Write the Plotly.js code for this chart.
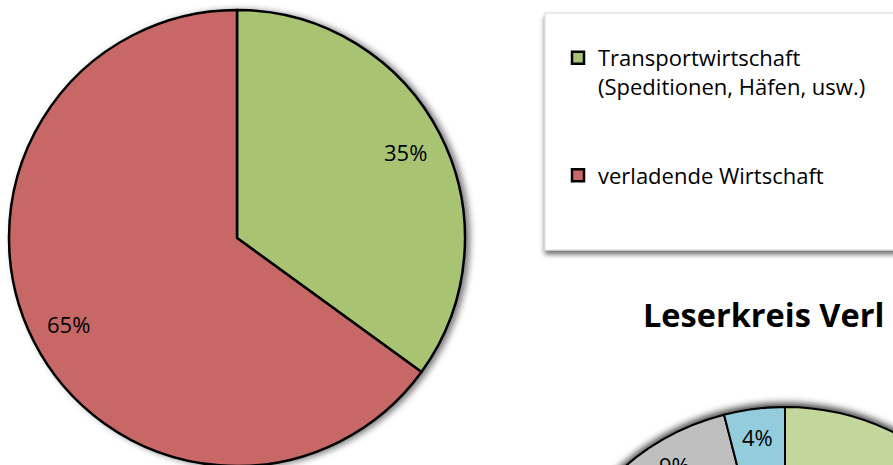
<!DOCTYPE html>
<html><head><meta charset="utf-8">
<script src="https://cdn.plot.ly/plotly-3.0.1.min.js"></script>
<style>
html,body{margin:0;padding:0;background:#fff;overflow:hidden;}
#wrap{width:893px;height:465px;overflow:hidden;position:relative;}
#chart{width:1040px;height:900px;}
.pielayer .trace:nth-of-type(1){filter:url(#shA);}
.pielayer .trace:nth-of-type(2){filter:url(#shB);}
.layer-below .shapelayer path{filter:url(#shC);}
</style></head>
<body>
<svg width="0" height="0" style="position:absolute">
<defs>
<filter id="shA" x="-10%" y="-10%" width="125%" height="125%"><feDropShadow dx="4" dy="1" stdDeviation="3" flood-color="#000" flood-opacity="0.5"/></filter>
<filter id="shB" x="-10%" y="-10%" width="125%" height="125%"><feDropShadow dx="0" dy="-3" stdDeviation="3.5" flood-color="#000" flood-opacity="0.75"/></filter>
<filter id="shC" x="-10%" y="-10%" width="125%" height="130%"><feDropShadow dx="0" dy="4" stdDeviation="2.5" flood-color="#000" flood-opacity="0.55"/></filter>
</defs></svg>
<div id="wrap"><div id="chart"></div></div>
<script>
// Chart 1 data
var labels1 = ['Transportwirtschaft<br>(Speditionen, Häfen, usw.)<br> <br> ', 'verladende Wirtschaft'];
var values1 = [35, 65];
var colors1 = ['#a8c473', '#c86866'];
// Chart 2 (partially visible) data
var title2 = 'Leserkreis Verl';
var labels2 = ['Kategorie A', 'Kategorie B', 'Kategorie C'];
var values2 = [87, 9, 4];
var colors2 = ['#c3d69b', '#bfbfbf', '#93cddd'];

var W = 1040, H = 900;
function px(x){return x / W;}
function py(y){return 1 - y / H;}

// geometry (pixels)
var c1 = {x: 237, y: 238, r: 228};
var c2 = {x: 785, y: 652, r: 245};

function labelAnns(values, c, f){
  var tot = values.reduce(function(a,b){return a+b;},0);
  var cum = 0, out = [];
  values.forEach(function(v){
    var mid = (cum + v/2) / tot * 2 * Math.PI;
    cum += v;
    out.push({
      x: px(c.x + f*c.r*Math.sin(mid)), y: py(c.y - f*c.r*Math.cos(mid)),
      xref:'paper', yref:'paper', xanchor:'center', yanchor:'middle', showarrow:false,
      text: Math.round(v/tot*100) + '%',
      font:{family:'Open Sans', size:22, color:'#000'}
    });
  });
  return out;
}

var data = [
  {type:'pie', labels: labels1, values: values1, sort:false, direction:'clockwise', rotation:0,
   marker:{colors: colors1, line:{color:'#000', width:2.5}}, textinfo:'none', hoverinfo:'label+percent',
   domain:{x:[px(c1.x-c1.r), px(c1.x+c1.r)], y:[py(c1.y+c1.r), py(c1.y-c1.r)]}},
  {type:'pie', labels: labels2, values: values2, sort:false, direction:'clockwise', rotation:0,
   marker:{colors: colors2, line:{color:'#000', width:2}}, textinfo:'none', showlegend:false,
   domain:{x:[px(c2.x-c2.r), px(c2.x+c2.r)], y:[py(c2.y+c2.r), py(c2.y-c2.r)]}}
];

var anns = labelAnns(values1, c1, 0.83).concat(labelAnns(values2, c2, 0.885));
anns.push({x: px(641), y: py(314), xref:'paper', yref:'paper', xanchor:'left', yanchor:'middle', showarrow:false,
  text:'<b>' + title2 + '</b>', font:{family:'Open Sans', size:32.5, color:'#000'}});

var layout = {
  width: W, height: H, autosize:false,
  margin:{l:0,r:0,t:0,b:0},
  paper_bgcolor:'#fff',
  showlegend:true,
  legend:{x: px(558), xanchor:'left', y: py(37), yanchor:'top', bgcolor:'rgba(0,0,0,0)', borderwidth:0,
    font:{family:'Open Sans', size:22, color:'#000'}, valign:'top', itemwidth:30, traceorder:'normal'},
  shapes:[{type:'rect', xref:'paper', yref:'paper', layer:'below',
    x0: px(545), x1: px(1100), y0: py(250), y1: py(13),
    fillcolor:'#fff', line:{color:'#d9d9d9', width:1}}],
  annotations: anns
};
Plotly.newPlot('chart', data, layout, {staticPlot:true});
</script>
</body></html>
